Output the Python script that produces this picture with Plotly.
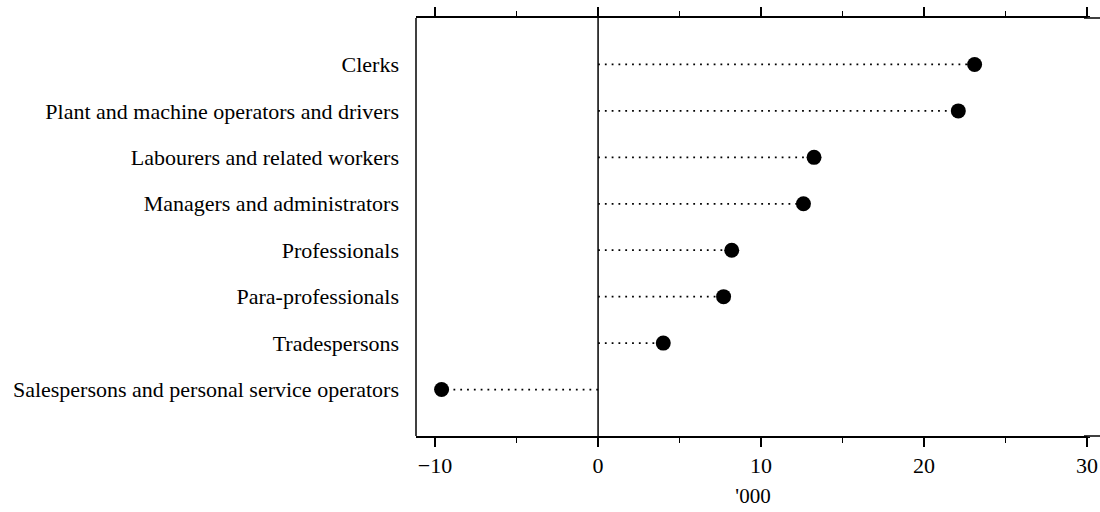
import plotly.graph_objects as go

categories = [
    "Clerks",
    "Plant and machine operators and drivers",
    "Labourers and related workers",
    "Managers and administrators",
    "Professionals",
    "Para-professionals",
    "Tradespersons",
    "Salespersons and personal service operators",
]
values = [23.1, 22.1, 13.25, 12.6, 8.2, 7.7, 4.0, -9.6]
x_tick_vals = [-10, 0, 10, 20, 30]
x_tick_text = ["\u221210", "0", "10", "20", "30"]

FONT = "Liberation Serif"
W, H = 1100, 512
ML, MR = 416, 10
plot_w = W - ML - MR

fig = go.Figure()

for i, (c, v) in enumerate(zip(categories, values)):
    fig.add_trace(go.Scatter(
        x=[0, v], y=[i, i], mode="lines",
        line=dict(color="black", width=1.8, dash="1.8px,5px"),
        hoverinfo="skip", showlegend=False,
    ))

fig.add_trace(go.Scatter(
    x=values, y=list(range(len(categories))), mode="markers",
    marker=dict(color="black", size=15, line=dict(width=0)),
    showlegend=False,
))

# zero reference line
fig.add_shape(type="line", xref="x", yref="paper", x0=0, x1=0, y0=0, y1=1,
              line=dict(color="black", width=1.5))
# left frame line
fig.add_shape(type="line", xref="paper", yref="paper", x0=0, x1=0, y0=0, y1=1,
              line=dict(color="black", width=1.5), layer="above")
# mask any frame edge on the right of the plot area
fig.add_shape(type="line", xref="paper", yref="paper", x0=1, x1=1, y0=-0.002, y1=1.002,
              line=dict(color="white", width=5), layer="above")
# top/bottom axis lines continue to the right page edge
for yy in (0, 1):
    fig.add_shape(type="line", xref="paper", yref="paper",
                  x0=1 - 6 / plot_w, x1=1 + MR / plot_w, y0=yy, y1=yy,
                  line=dict(color="black", width=1.5), layer="above")

fig.update_layout(
    width=W, height=H,
    margin=dict(l=ML, r=MR, t=18, b=76),
    plot_bgcolor="white", paper_bgcolor="white",
    font=dict(family=FONT, size=22, color="black"),
    xaxis=dict(
        range=[-11.17, 30.18],
        tickvals=x_tick_vals, ticktext=x_tick_text,
        ticks="outside", ticklen=9, tickwidth=1.5, tickcolor="black",
        showline=True, linecolor="black", linewidth=1.5, mirror="ticks",
        showgrid=False, zeroline=False, automargin=False,
        minor=dict(dtick=5, tick0=0, ticks="outside", ticklen=5,
                   tickwidth=1.2, tickcolor="black", showgrid=False),
        title=dict(text="'000", font=dict(family=FONT, size=21), standoff=11),
        tickfont=dict(family=FONT, size=22),
    ),
    yaxis=dict(
        range=[8, -1],
        tickvals=list(range(len(categories))), ticktext=categories,
        ticks="", showline=False,
        showgrid=False, zeroline=False,
        automargin=False, ticklabelstandoff=16,
        tickfont=dict(family=FONT, size=22),
    ),
)

fig.write_html(
    "out.html",
    config={"displayModeBar": False},
    post_script="document.body.style.margin='0';document.body.style.overflow='hidden';",
)
